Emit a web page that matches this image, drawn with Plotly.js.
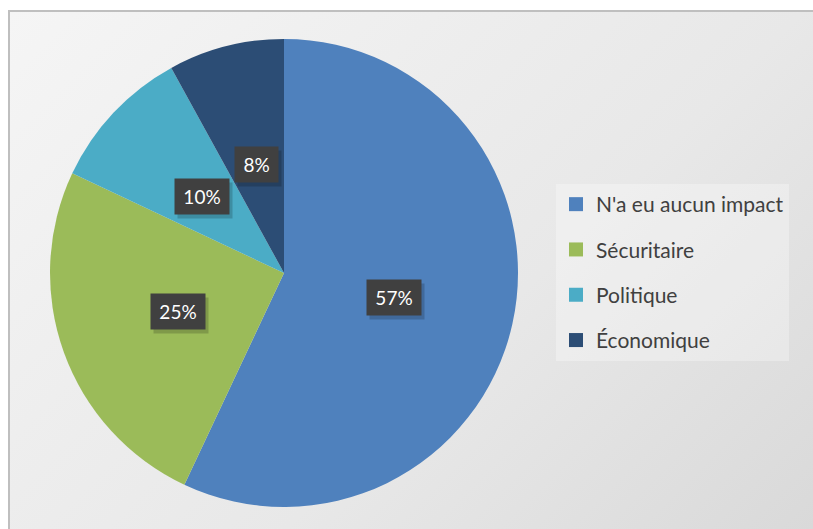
<!DOCTYPE html>
<html>
<head>
<meta charset="utf-8">
<script src="https://cdn.plot.ly/plotly-3.0.1.min.js"></script>
<style>
  body { margin: 0; background: #fff; }
  #wrap { position: relative; width: 813px; height: 529px; }
  #bg {
    position: absolute; left: 8px; top: 10px; right: 0; bottom: 0;
    border-left: 2px solid #bfbfbf; border-top: 2px solid #bfbfbf;
    background: linear-gradient(135deg, #f5f5f5 0%, #e8e8e8 60%, #d9d9d9 100%);
  }
  #plot { position: absolute; left: 0; top: 0; width: 813px; height: 529px; }
</style>
</head>
<body>
<div id="wrap">
  <div id="bg"></div>
  <div id="plot"></div>
</div>
<script>
var labels = ["N'a eu aucun impact", "Sécuritaire", "Politique", "Économique"];
var values = [57, 25, 10, 8];
var colors = ['#4F81BD', '#9BBB59', '#4BACC6', '#2C4D75'];

var W = 813, H = 529;
var cx = 284, cy = 273, R = 234;

var pie = {
  type: 'pie',
  labels: labels,
  values: values,
  sort: false,
  direction: 'clockwise',
  rotation: 0,
  marker: { colors: colors, line: { width: 0 } },
  textinfo: 'none',
  showlegend: false,
  domain: { x: [(cx - R) / W, (cx + R) / W], y: [(H - cy - R) / H, (H - cy + R) / H] }
};

// legend entries (one group per category so the gap between them can be set)
var legendTraces = labels.map(function (lab, i) {
  return {
    type: 'scatter', mode: 'markers', x: [null], y: [null],
    name: lab, legendgroup: 'g' + i,
    marker: { symbol: 'square', size: 14, color: colors[i] },
    hoverinfo: 'skip'
  };
});

// data labels placed at the middle angle of each slice
var total = values.reduce(function (a, b) { return a + b; }, 0);
var annotations = [];
var cum = 0;
values.forEach(function (v) {
  var mid = (cum + v / 2) / total * 2 * Math.PI;
  cum += v;
  var px = cx + 0.48 * R * Math.sin(mid);
  var py = cy - 0.48 * R * Math.cos(mid);
  var txt = Math.round(v / total * 100) + '%';
  var base = {
    xref: 'paper', yref: 'paper', x: px / W, y: 1 - py / H,
    xanchor: 'center', yanchor: 'middle',
    showarrow: false, borderpad: 0,
    width: txt.length > 2 ? 54 : 43, height: 35
  };
  // soft drop shadow behind the label box
  annotations.push(Object.assign({}, base, {
    text: ' ', bgcolor: 'rgba(0,0,0,0.18)', xshift: 3, yshift: -4
  }));
  annotations.push(Object.assign({}, base, {
    text: txt, bgcolor: '#404040',
    font: { family: 'Lato, sans-serif', size: 19, color: '#ffffff' }
  }));
});

var layout = {
  width: W, height: H,
  margin: { l: 0, r: 0, t: 0, b: 0 },
  paper_bgcolor: 'rgba(0,0,0,0)',
  plot_bgcolor: 'rgba(0,0,0,0)',
  xaxis: { visible: false },
  yaxis: { visible: false },
  showlegend: true,
  legend: {
    x: 556 / W, y: 1 - 184 / H, xanchor: 'left', yanchor: 'top',
    bgcolor: 'rgba(255,255,255,0.3)',
    font: { family: 'Lato, sans-serif', size: 21, color: '#404040' },
    tracegroupgap: 15,
    itemwidth: 30
  },
  annotations: annotations
};

Plotly.newPlot('plot', [pie].concat(legendTraces), layout, { displayModeBar: false, staticPlot: true });
</script>
</body>
</html>
